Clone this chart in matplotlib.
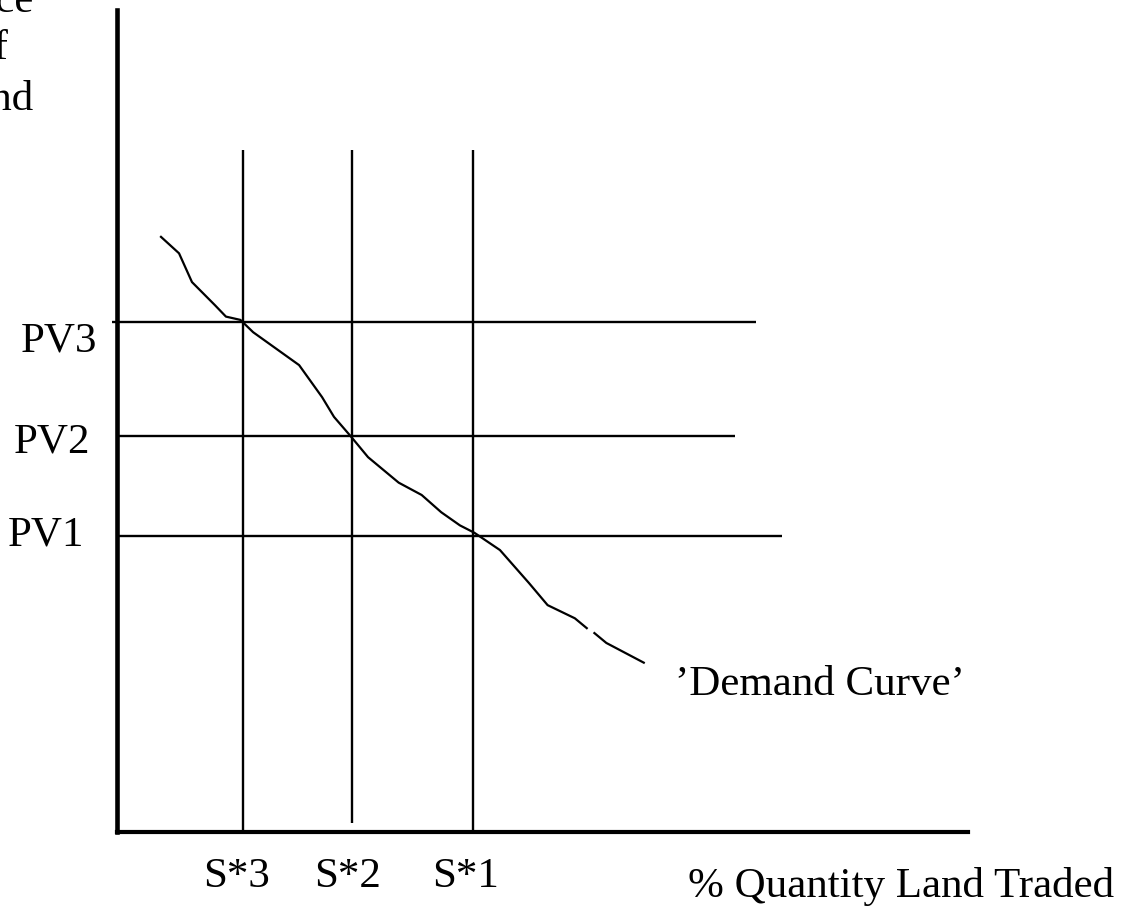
import numpy as np
import matplotlib
matplotlib.use("Agg")
import matplotlib.pyplot as plt

plt.rcParams['font.family'] = ['Liberation Serif', 'DejaVu Serif']

# ---- data (axis units: quantity 0-100, price 0-100) ----
supply_labels = ["S*3", "S*2", "S*1"]
supply_x = [14.8, 27.6, 41.8]
supply_bottom = [0.0, 1.1, 0.0]
supply_top = 83.0

pv_labels = ["PV3", "PV2", "PV1"]
pv_y = [62.0, 48.2, 36.0]
pv_start = [-0.6, 0.0, 0.0]
pv_end = [75.1, 72.6, 78.1]

demand_x = [5.17, 7.29, 8.81, 11.5, 12.8, 14.5, 16.0, 21.4, 24.1, 25.5, 27.5,
            29.5, 33.1, 35.8, 38.1, 40.3, 42.0, 45.0, 48.4, 50.6, 53.8, 55.2,
            np.nan, 56.1, 57.5, 61.9]
demand_y = [72.4, 70.4, 66.9, 64.1, 62.7, 62.3, 60.8, 56.8, 52.9, 50.5, 48.1,
            45.6, 42.5, 41.0, 38.9, 37.3, 36.4, 34.3, 30.3, 27.6, 26.0, 24.8,
            np.nan, 24.2, 23.0, 20.6]

x_title = "% Quantity Land Traded"
y_title_lines = ["Price", "of", "Land"]
curve_label = "\u2019Demand Curve\u2019"

W, H = 1138, 911
fig = plt.figure(figsize=(W / 100, H / 100), dpi=100)
ax = fig.add_axes([117 / W, (H - 832) / H, (968 - 117) / W, (832 - 10) / H])
ax.set_xlim(0, 100)
ax.set_ylim(0, 100)
for s in ["top", "right"]:
    ax.spines[s].set_visible(False)
ax.spines["left"].set_linewidth(3.3)
ax.spines["bottom"].set_linewidth(3.0)
ax.set_xticks([])
ax.set_yticks([])
ax.patch.set_alpha(0)

fs = 31
for x, b in zip(supply_x, supply_bottom):
    ax.plot([x, x], [b, supply_top], color="black", lw=1.7, solid_capstyle="butt")

for y, x0, x1 in zip(pv_y, pv_start, pv_end):
    ax.plot([x0, x1], [y, y], color="black", lw=1.7, clip_on=False, solid_capstyle="butt")

ax.plot(demand_x, demand_y, color="black", lw=1.6)

# labels
pv_text_x = [-2.35, -3.2, -3.8]
pv_text_base = [58.4, 46.2, 34.9]
for lab, tx, ty in zip(pv_labels, pv_text_x, pv_text_base):
    ax.text(tx, ty, lab, ha="right", va="baseline", fontsize=fs, clip_on=False)

s_text_x = [14.1, 27.1, 41.0]
for lab, tx in zip(supply_labels, s_text_x):
    ax.text(tx, -6.7, lab, ha="center", va="baseline", fontsize=fs, clip_on=False)

ax.text(67.1, -7.9, x_title, ha="left", va="baseline", fontsize=fs, clip_on=False)
ax.text(65.6, 16.7, curve_label, ha="left", va="baseline", fontsize=fs, clip_on=False)

for line, yb in zip(y_title_lines, [99.8, 94.0, 87.8]):
    ax.text(-14.9, yb, line, ha="center", va="baseline", fontsize=fs, clip_on=False)

fig.savefig("out.png", dpi=100, facecolor="white")
